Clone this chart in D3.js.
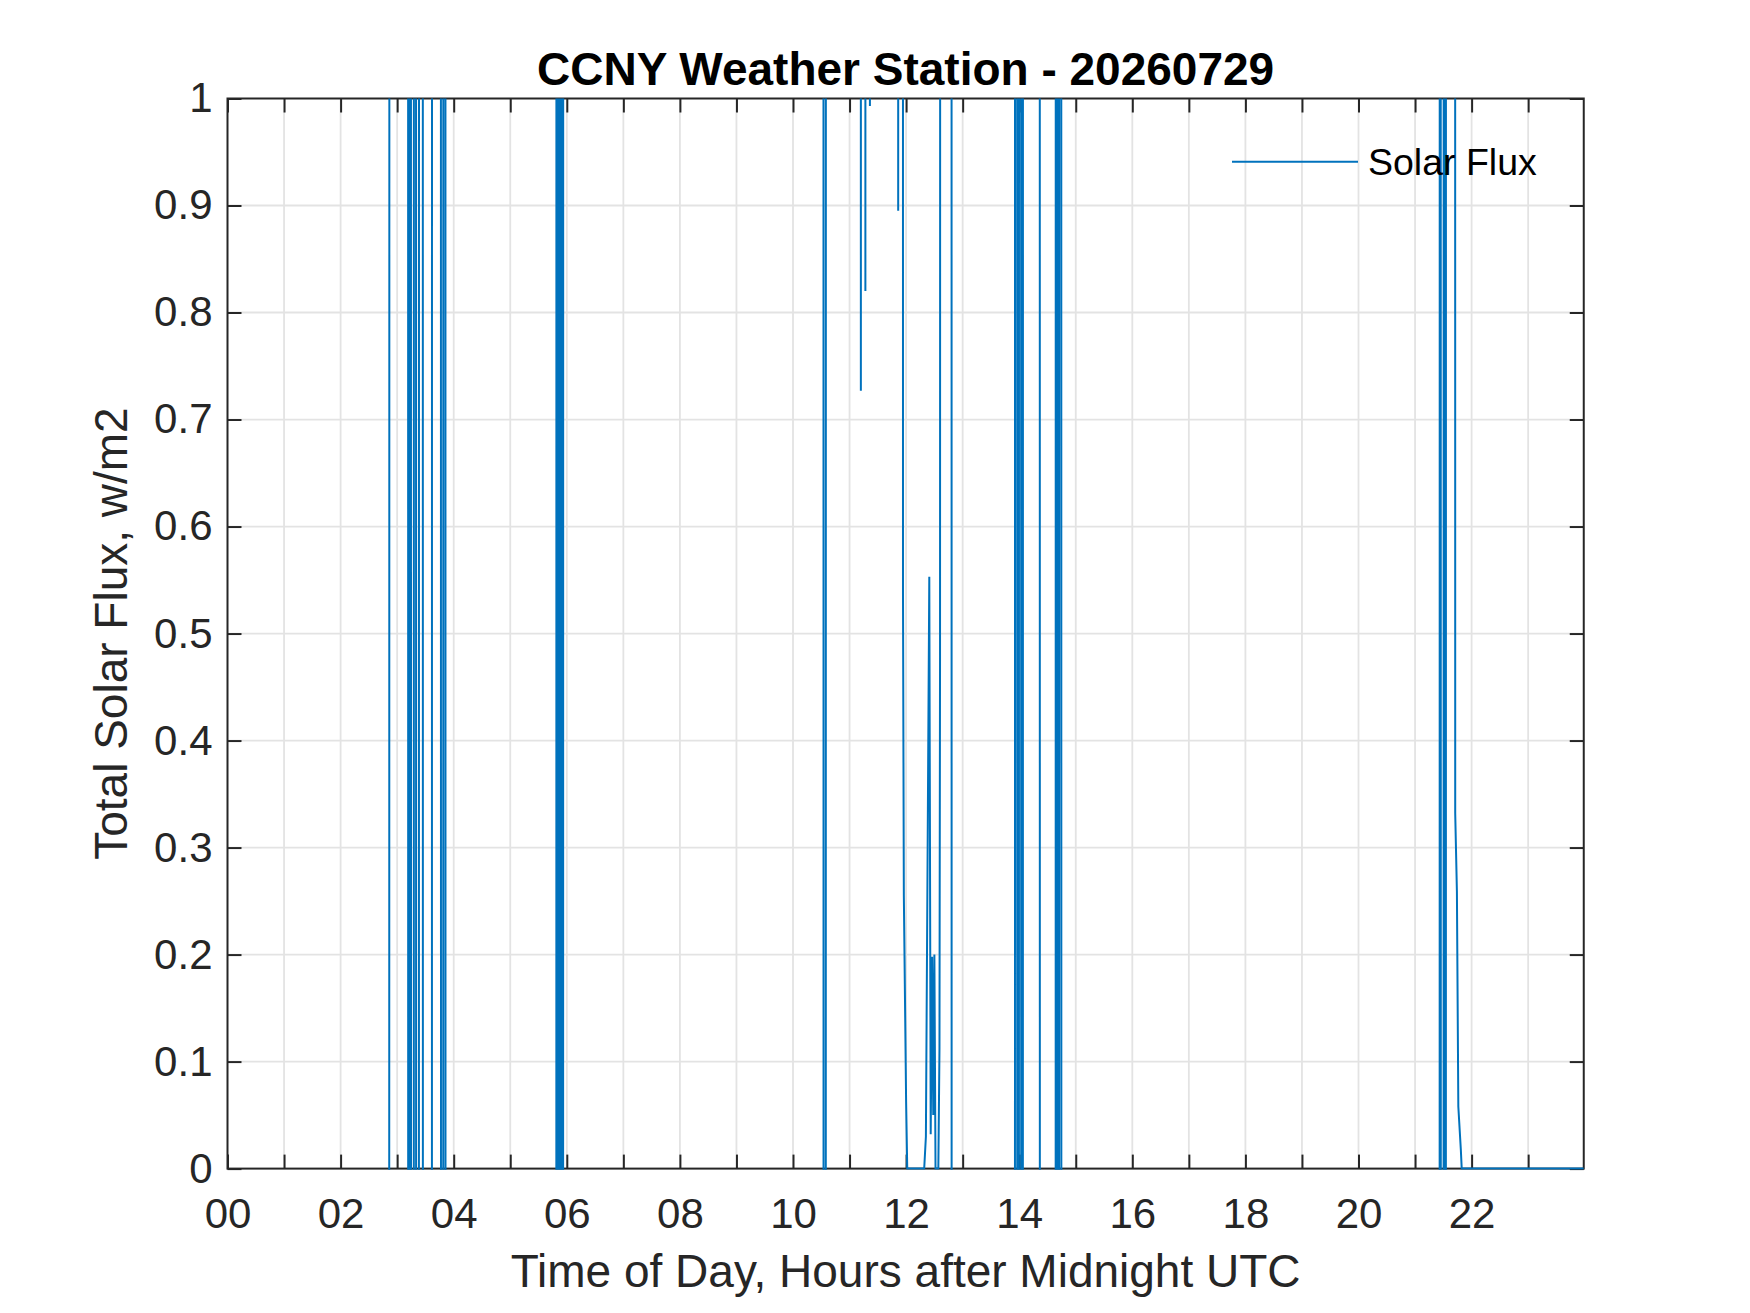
<!DOCTYPE html>
<html>
<head>
<meta charset="utf-8">
<script src="https://cdn.jsdelivr.net/npm/d3@7"></script>
<style>
  body { margin: 0; background: #fff; }
  svg { display: block; font-family: "Liberation Sans", Arial, Helvetica, sans-serif; }
</style>
</head>
<body>
<svg id="chart" width="1750" height="1313"></svg>
<script>
// time of day (hours after midnight UTC) and solar flux.
// values beyond the 0..1 window are clipped off, so HI / LO stand for "off the chart"
const HI = 5;
const LO = -5;

const hours = [
  0.00,
  2.85, 2.87, 3.19, 3.20, 3.21, 3.22, 3.24, 3.25, 3.29, 3.30, 3.33, 3.34,
  3.38, 3.39, 3.45, 3.46, 3.61, 3.62, 3.77, 3.78, 3.81, 3.82, 3.85, 3.86,
  5.81, 5.82, 5.84, 5.85, 5.87, 5.88, 5.90, 5.91, 5.93, 5.94,
  10.535, 10.545, 10.575, 10.585,
  11.195, 11.20, 11.205, 11.275, 11.28, 11.285, 11.355, 11.36, 11.365,
  11.855, 11.86, 11.865,
  11.94, 11.945, 11.96, 12.00, 12.02,
  12.32, 12.35, 12.41, 12.435, 12.46, 12.48, 12.50, 12.52, 12.57, 12.59, 12.60, 12.615,
  12.80, 12.81,
  13.92, 13.93, 13.96, 13.97, 13.99, 14.00, 14.03, 14.04, 14.06, 14.07,
  14.36, 14.37, 14.64, 14.65, 14.67, 14.68, 14.70, 14.71, 14.74, 14.75,
  21.43, 21.44, 21.45, 21.46, 21.50, 21.51, 21.52, 21.53, 21.54, 21.55,
  21.705, 21.71, 21.74, 21.765, 21.81, 21.825, 23.983
];

const flux = [
  LO,
  LO, HI, HI, LO, LO, HI, HI, LO, LO, HI, HI, LO,
  LO, HI, HI, LO, LO, HI, HI, LO, LO, HI, HI, LO,
  LO, HI, HI, LO, LO, HI, HI, LO, LO, HI,
  HI, LO, LO, HI,
  HI, 0.727, HI, HI, 0.82, HI, HI, 0.993, HI,
  HI, 0.895, HI,
  HI, 0.537, 0.255, 0.063, 0,
  0, 0.03, 0.553, 0.032, 0.198, 0.05, 0.2, 0, 0, 0.112, 0.48, HI,
  HI, LO,
  LO, HI, HI, LO, LO, HI, HI, LO, LO, HI,
  HI, LO, LO, HI, HI, LO, LO, HI, HI, LO,
  LO, HI, HI, LO, LO, HI, HI, LO, LO, HI,
  HI, 0.332, 0.259, 0.058, 0.017, 0, 0
];

const xTicks = d3.range(0, 24);           // hourly ticks / grid
const yTicks = [0, 0.1, 0.2, 0.3, 0.4, 0.5, 0.6, 0.7, 0.8, 0.9, 1];
const xLimit = [0, 23.983];
const yLimit = [0, 1];

const TITLE = 'CCNY Weather Station - 20260729';
const X_LABEL = 'Time of Day, Hours after Midnight UTC';
const Y_LABEL = 'Total Solar Flux, w/m2';
const SERIES_NAME = 'Solar Flux';

const data = hours.map((h, i) => ({ hour: h, flux: flux[i] }));

const SVG = d3.select('#chart');
const W = 1750;
const H = 1313;
const LEFT = 227.5;
const RIGHT = 1583.75;
const TOP = 98.5;
const BOTTOM = 1168.6;
const TICK = 14;
const AXIS_COLOR = '#262626';
const GRID_COLOR = '#e3e3e3';
const LINE_COLOR = '#0072BD';

SVG.append('rect').attr('width', W).attr('height', H).attr('fill', '#fff');

const X_SCALE = d3.scaleLinear().domain(xLimit).range([LEFT, RIGHT]);
const Y_SCALE = d3.scaleLinear().domain(yLimit).range([BOTTOM, TOP]);

// grid
const GRID = SVG.append('g').attr('id', 'grid')
  .attr('stroke', GRID_COLOR)
  .attr('stroke-width', 1.8);
GRID.selectAll('line.v')
  .data(xTicks.filter(d => d > xLimit[0]))
  .join('line')
  .attr('class', 'v')
  .attr('x1', d => X_SCALE(d)).attr('x2', d => X_SCALE(d))
  .attr('y1', TOP).attr('y2', BOTTOM);
GRID.selectAll('line.h')
  .data(yTicks.filter(d => d > yLimit[0] && d < yLimit[1]))
  .join('line')
  .attr('class', 'h')
  .attr('y1', d => Y_SCALE(d)).attr('y2', d => Y_SCALE(d))
  .attr('x1', LEFT).attr('x2', RIGHT);

// axes (ticks point inward, box on)
const fmtHour = d => (d % 2 === 0 ? String(d).padStart(2, '0') : '');
const fmtFlux = d3.format('~g');

const X_AXIS_G = SVG.append('g')
  .attr('id', 'xAxis')
  .attr('transform', `translate(0,${BOTTOM})`)
  .call(d3.axisBottom(X_SCALE).tickValues(xTicks).tickFormat(fmtHour)
    .tickSizeInner(-TICK).tickSizeOuter(0).tickPadding(30));

const X_TOP_G = SVG.append('g')
  .attr('transform', `translate(0,${TOP})`)
  .call(d3.axisTop(X_SCALE).tickValues(xTicks).tickFormat('')
    .tickSizeInner(-TICK).tickSizeOuter(0));

const Y_AXIS_G = SVG.append('g')
  .attr('id', 'yAxis')
  .attr('transform', `translate(${LEFT},0)`)
  .call(d3.axisLeft(Y_SCALE).tickValues(yTicks).tickFormat(fmtFlux)
    .tickSizeInner(-TICK).tickSizeOuter(0).tickPadding(15));

const Y_RIGHT_G = SVG.append('g')
  .attr('transform', `translate(${RIGHT},0)`)
  .call(d3.axisRight(Y_SCALE).tickValues(yTicks).tickFormat('')
    .tickSizeInner(-TICK).tickSizeOuter(0));

[X_AXIS_G, X_TOP_G, Y_AXIS_G, Y_RIGHT_G].forEach(g => {
  g.select('.domain').remove();
  g.selectAll('line').attr('stroke', AXIS_COLOR).attr('stroke-width', 2);
  g.selectAll('text')
    .attr('fill', AXIS_COLOR)
    .style('font-size', '42px')
    .style('font-family', '"Liberation Sans", Arial, sans-serif');
});

SVG.append('rect')
  .attr('x', LEFT).attr('y', TOP)
  .attr('width', RIGHT - LEFT).attr('height', BOTTOM - TOP)
  .attr('fill', 'none')
  .attr('stroke', AXIS_COLOR)
  .attr('stroke-width', 2);

// data line, clipped to the axes
SVG.append('clipPath').attr('id', 'plotClip')
  .append('rect')
  .attr('x', LEFT).attr('y', TOP)
  .attr('width', RIGHT - LEFT).attr('height', BOTTOM - TOP + 1.2);

SVG.append('g')
  .attr('id', 'fluxLine')
  .attr('clip-path', 'url(#plotClip)')
  .selectAll('path')
  .data([data])
  .join('path')
  .attr('d', d3.line(d => X_SCALE(d.hour), d => Y_SCALE(d.flux)))
  .style('fill', 'none')
  .style('stroke', LINE_COLOR)
  .style('stroke-width', 2)
  .style('stroke-linejoin', 'miter');

// legend (no box)
const LEGEND = SVG.append('g').attr('id', 'legend');
LEGEND.append('line')
  .attr('x1', 1232).attr('x2', 1358)
  .attr('y1', 161.7).attr('y2', 161.7)
  .style('stroke', LINE_COLOR)
  .style('stroke-width', 2);
LEGEND.append('text')
  .text(SERIES_NAME)
  .attr('x', 1368).attr('y', 175)
  .style('font-size', '37.5px')
  .style('fill', '#000');

// labels
SVG.append('text')
  .text(TITLE)
  .attr('x', (LEFT + RIGHT) / 2).attr('y', 85)
  .style('text-anchor', 'middle')
  .style('font-size', '46px')
  .style('font-weight', 'bold')
  .style('fill', '#000');

SVG.append('text')
  .text(X_LABEL)
  .attr('x', (LEFT + RIGHT) / 2).attr('y', 1287)
  .style('text-anchor', 'middle')
  .style('font-size', '46px')
  .style('fill', AXIS_COLOR);

SVG.append('text')
  .text(Y_LABEL)
  .attr('transform', `translate(127,${(TOP + BOTTOM) / 2}) rotate(-90)`)
  .style('text-anchor', 'middle')
  .style('font-size', '46px')
  .style('fill', AXIS_COLOR);
</script>
</body>
</html>
